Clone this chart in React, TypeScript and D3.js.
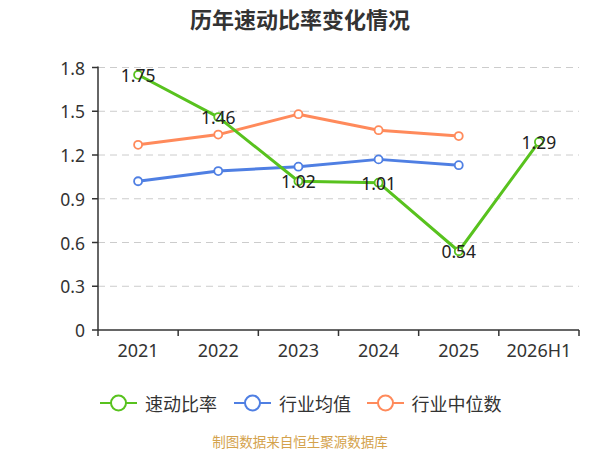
import React from "react";
import * as d3 from "d3";

const categories = ["2021", "2022", "2023", "2024", "2025", "2026H1"];
const quickRatio = [1.75, 1.46, 1.02, 1.01, 0.54, 1.29];
const industryMean = [1.02, 1.09, 1.12, 1.17, 1.13];
const industryMedian = [1.27, 1.34, 1.48, 1.37, 1.33];
const yTicks = [0, 0.3, 0.6, 0.9, 1.2, 1.5, 1.8];

const seriesNames = ["速动比率", "行业均值", "行业中位数"];
const colors = ["#58c21e", "#4f7fe3", "#ff8a5b"];

const W = 600;
const H = 450;
const left = 98;
const right = 579;
const top = 67.5;
const bottom = 330;
const font = "'Noto Sans CJK SC', 'Noto Sans', sans-serif";
const numFont = "'Noto Sans', 'Noto Sans CJK SC', sans-serif";

export default function App() {
  const x = d3.scaleBand<string>().domain(categories).range([left, right]);
  const y = d3.scaleLinear().domain([0, 1.8]).range([bottom, top]);
  const cx = (c: string) => (x(c) as number) + x.bandwidth() / 2;
  const line = d3
    .line<number>()
    .x((_, i) => cx(categories[i]))
    .y((d) => y(d));

  const series = [
    { name: seriesNames[2], data: industryMedian, color: colors[2] },
    { name: seriesNames[1], data: industryMean, color: colors[1] },
    { name: seriesNames[0], data: quickRatio, color: colors[0] },
  ];

  const legendItems = [
    { name: seriesNames[0], color: colors[0], x: 100, tx: 145 },
    { name: seriesNames[1], color: colors[1], x: 234, tx: 279 },
    { name: seriesNames[2], color: colors[2], x: 367, tx: 411.5 },
  ];

  return (
    <div style={{ position: "absolute", left: 0, top: 0 }}>
      <svg width={W} height={H} style={{ display: "block", background: "#fff" }} fontFamily={font}>
        <text x={300} y={18} textAnchor="middle" dominantBaseline="central" fontSize={22} fontWeight="bold" fill="#333">
          历年速动比率变化情况
        </text>

        {yTicks.filter((t) => t > 0).map((t) => (
          <line key={"g" + t} x1={left} x2={right} y1={y(t)} y2={y(t)} stroke="#ccc" strokeWidth={1} strokeDasharray="7,5" />
        ))}

        <line x1={left} x2={left} y1={top - 1} y2={bottom} stroke="#333" strokeWidth={1.5} />
        {yTicks.map((t) => (
          <g key={"t" + t}>
            <line x1={left - 6} x2={left} y1={y(t)} y2={y(t)} stroke="#333" strokeWidth={1.5} />
            <text x={85} y={y(t)} textAnchor="end" dominantBaseline="central" fontSize={17.5} fill="#333" fontFamily={numFont}>
              {t === 0 ? "0" : t.toFixed(1)}
            </text>
          </g>
        ))}

        <line x1={left} x2={right} y1={bottom} y2={bottom} stroke="#333" strokeWidth={1.5} />
        {categories.map((c, i) => (
          <line key={"xt" + i} x1={x(c) as number} x2={x(c) as number} y1={bottom} y2={bottom + 6} stroke="#333" strokeWidth={1.5} />
        ))}
        <line x1={right} x2={right} y1={bottom} y2={bottom + 6} stroke="#333" strokeWidth={1.5} />
        {categories.map((c) => (
          <text key={"xl" + c} x={cx(c)} y={350} textAnchor="middle" dominantBaseline="central" fontSize={18} fill="#333" fontFamily={numFont}>
            {c}
          </text>
        ))}

        {series.map((s) => (
          <g key={s.name}>
            <path d={line(s.data) || ""} fill="none" stroke={s.color} strokeWidth={3} strokeLinejoin="round" />
            {s.data.map((v, i) => (
              <circle key={i} cx={cx(categories[i])} cy={y(v)} r={4} fill="#fff" stroke={s.color} strokeWidth={1.8} />
            ))}
          </g>
        ))}

        {quickRatio.map((v, i) => (
          <text key={"lbl" + i} x={cx(categories[i])} y={y(v)} textAnchor="middle" dominantBaseline="central" fontSize={17.5} fill="#222" fontFamily={numFont}>
            {v.toFixed(2)}
          </text>
        ))}

        {legendItems.map((l) => (
          <g key={l.name}>
            <line x1={l.x} x2={l.x + 37} y1={403} y2={403} stroke={l.color} strokeWidth={2} />
            <circle cx={l.x + 18.5} cy={403} r={7.5} fill="#fff" stroke={l.color} strokeWidth={2} />
            <text x={l.tx} y={403} dominantBaseline="central" fontSize={18} fill="#333">
              {l.name}
            </text>
          </g>
        ))}

        <text x={300} y={441} textAnchor="middle" dominantBaseline="central" fontSize={13.5} fill="#d4a24c">
          制图数据来自恒生聚源数据库
        </text>
      </svg>
    </div>
  );
}
